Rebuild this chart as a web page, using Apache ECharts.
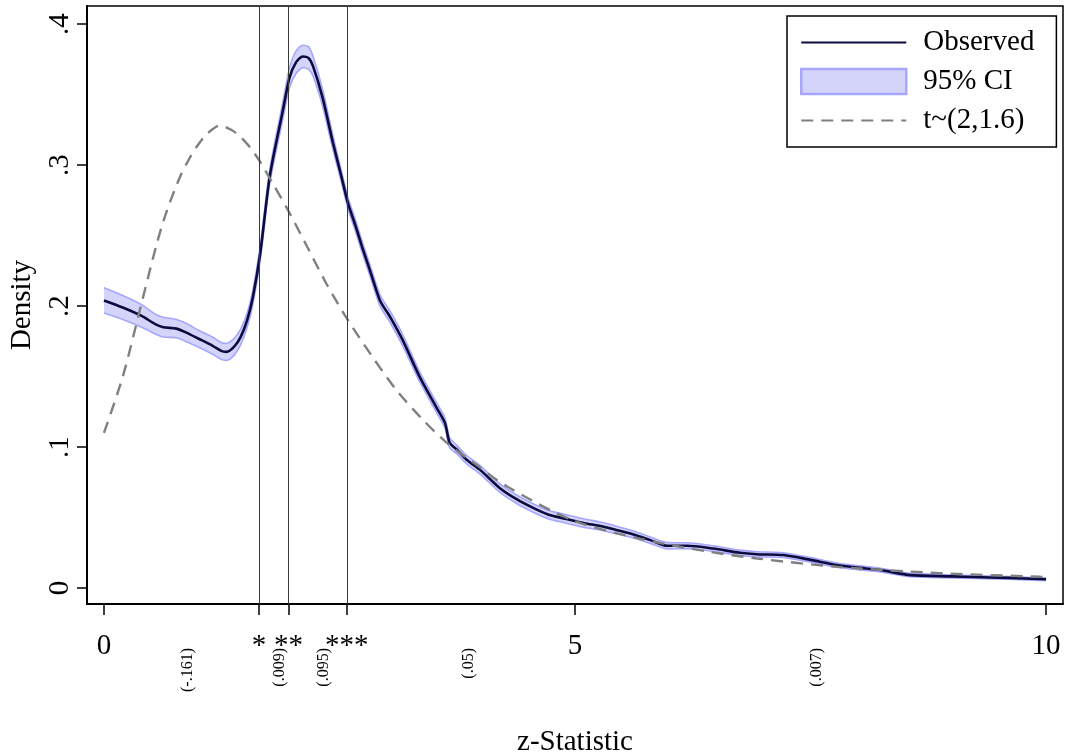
<!DOCTYPE html>
<html>
<head>
<meta charset="utf-8">
<title>z-Statistic density</title>
<script src="https://cdn.jsdelivr.net/npm/echarts@6/dist/echarts.min.js"></script>
<style>
  html, body { margin: 0; padding: 0; background: #fff; }
  #chart { width: 1067px; height: 755px; }
</style>
</head>
<body>
<div id="chart"></div>
<script>
// Kernel density of observed z-statistics, with its 95% band
const zGrid = [0.00, 0.20, 0.40, 0.55, 0.63, 0.77, 0.88, 1.00, 1.15, 1.25, 1.30, 1.38, 1.45, 1.52, 1.58, 1.66, 1.76, 1.90, 1.97, 2.04,
  2.11, 2.17, 2.22, 2.32, 2.43, 2.52, 2.59, 2.67, 2.74, 2.82, 2.93, 3.04, 3.17, 3.35, 3.53, 3.62, 3.67, 3.75, 3.85, 3.99,
  4.20, 4.38, 4.55, 4.72, 4.91, 5.10, 5.27, 5.45, 5.62, 5.80, 5.98, 6.19, 6.47, 6.75, 6.93, 7.21, 7.50, 7.78, 8.00, 8.24,
  8.56, 9.00, 9.23, 9.60, 10.00];
const observed = [0.204, 0.199, 0.193, 0.187, 0.185, 0.184, 0.181, 0.177, 0.172, 0.168, 0.1675, 0.171, 0.178, 0.190, 0.206, 0.238, 0.292, 0.339, 0.362, 0.373,
  0.377, 0.376, 0.370, 0.348, 0.316, 0.292, 0.273, 0.257, 0.242, 0.226, 0.204, 0.192, 0.176, 0.150, 0.128, 0.117, 0.103, 0.098, 0.091, 0.084,
  0.071, 0.063, 0.057, 0.052, 0.049, 0.046, 0.044, 0.041, 0.038, 0.034, 0.030, 0.030, 0.028, 0.025, 0.024, 0.0234, 0.020, 0.0163, 0.0145, 0.0128,
  0.0092, 0.0083, 0.0078, 0.0072, 0.0062];
const ciLower = [0.195, 0.1905, 0.185, 0.180, 0.178, 0.1775, 0.1745, 0.171, 0.166, 0.162, 0.1615, 0.165, 0.1725, 0.185, 0.201, 0.233, 0.287, 0.333, 0.355, 0.365,
  0.369, 0.368, 0.363, 0.342, 0.311, 0.288, 0.269, 0.253, 0.238, 0.222, 0.200, 0.188, 0.172, 0.1465, 0.1245, 0.1135, 0.0995, 0.095, 0.088, 0.081,
  0.068, 0.060, 0.054, 0.049, 0.046, 0.043, 0.0412, 0.0383, 0.0355, 0.0317, 0.0278, 0.0279, 0.026, 0.0231, 0.0222, 0.0217, 0.0184, 0.0148, 0.0131, 0.0115,
  0.0080, 0.0072, 0.0068, 0.0062, 0.0053];
const ciUpper = [0.213, 0.2075, 0.201, 0.194, 0.192, 0.1905, 0.1875, 0.183, 0.178, 0.174, 0.1735, 0.177, 0.1835, 0.195, 0.211, 0.243, 0.297, 0.345, 0.369, 0.381,
  0.385, 0.384, 0.377, 0.354, 0.321, 0.296, 0.277, 0.261, 0.246, 0.230, 0.208, 0.196, 0.180, 0.1535, 0.1315, 0.1205, 0.1065, 0.101, 0.094, 0.087,
  0.074, 0.066, 0.060, 0.055, 0.052, 0.049, 0.0468, 0.0437, 0.0405, 0.0363, 0.0322, 0.0321, 0.030, 0.0269, 0.0258, 0.0251, 0.0216, 0.0178, 0.0159, 0.0141,
  0.0104, 0.0094, 0.0088, 0.0082, 0.0071];

// Reference t density
const tZ = [0.00, 0.20, 0.38, 0.56, 0.67, 0.81, 0.91, 0.99, 1.10, 1.23, 1.35, 1.45, 1.52, 1.58, 1.66, 1.80, 1.97, 2.15, 2.36, 2.59,
  2.86, 3.11, 3.39, 3.64, 3.92, 4.28, 4.98, 5.69, 6.40, 6.93, 7.80, 8.87, 9.94, 10.00];
const tDensity = [0.110, 0.150, 0.197, 0.244, 0.268, 0.292, 0.305, 0.3135, 0.3225, 0.328, 0.325, 0.320, 0.315, 0.310, 0.302, 0.286, 0.266, 0.243, 0.216, 0.190,
  0.163, 0.140, 0.119, 0.103, 0.089, 0.072, 0.048, 0.035, 0.026, 0.021, 0.015, 0.0106, 0.008, 0.0079];

// Critical values and their significance stars
const critValues = [1.645, 1.96, 2.576];
const critStars = ['*', '**', '***'];
const xTickValues = [0, 5, 10];
const xTickLabels = ['0', '5', '10'];
const yTickValues = [0, 0.1, 0.2, 0.3, 0.4];
const yTickLabels = ['0', '.1', '.2', '.3', '.4'];
// Bin statistics written below the axis
const binPositions = [0.89, 1.87, 2.33, 3.87, 7.57];
const binLabels = ['(-.161)', '(.009)', '(.095)', '(.05)', '(.007)'];

const FONT = '"Liberation Serif", "DejaVu Serif", serif';
const BAND_FILL = '#d4d4fb';
const BAND_EDGE = '#a6a6ff';

const pairs = (xs, ys) => xs.map((x, i) => [x, ys[i]]);
const lookup = (vals, labels) => (v) => {
  for (let i = 0; i < vals.length; i++) {
    if (Math.abs(vals[i] - v) < 1e-6) return labels[i];
  }
  return '';
};

const xAllTicks = xTickValues.concat(critValues).sort((a, b) => a - b);
const xLabelOf = lookup(xTickValues.concat(critValues), xTickLabels.concat(critStars));

// Band polygon: upper edge left to right, then lower edge back
function renderBand(params, api) {
  if (params.dataIndex !== 0) return null;
  const upper = zGrid.map((z, i) => api.coord([z, ciUpper[i]]));
  const lower = zGrid.map((z, i) => api.coord([z, ciLower[i]])).reverse();
  return {
    type: 'polygon',
    shape: { points: upper.concat(lower) },
    style: { fill: BAND_FILL, stroke: null }
  };
}

const chart = echarts.init(document.getElementById('chart'), null, { renderer: 'canvas' });

chart.setOption({
  animation: false,
  backgroundColor: '#ffffff',
  textStyle: { fontFamily: FONT, color: '#000' },
  grid: {
    left: 87, right: 4, top: 6, bottom: 151,
    outerBoundsMode: 'none', containLabel: false,
    show: true, borderColor: '#000', borderWidth: 1.5, backgroundColor: 'transparent'
  },
  legend: {
    orient: 'vertical',
    left: 787, top: 16,
    padding: [12, 22, 12, 13],
    itemGap: 10,
    itemWidth: 105, itemHeight: 25,
    backgroundColor: '#fff',
    borderColor: '#000', borderWidth: 1.5, borderRadius: 0,
    selectedMode: false,
    itemStyle: { opacity: 0 },
    textStyle: { fontFamily: FONT, fontSize: 29, color: '#000', padding: [0, 0, 0, 12] },
    data: [
      { name: 'Observed' },
      { name: '95% CI', icon: 'rect', itemStyle: { opacity: 1, color: BAND_FILL, borderColor: BAND_EDGE, borderWidth: 2.5 } },
      { name: 't~(2,1.6)' }
    ]
  },
  xAxis: [
    {
      type: 'value', min: -0.18, max: 10.18,
      name: 'z-Statistic', nameLocation: 'middle', nameGap: 124,
      nameTextStyle: { fontFamily: FONT, fontSize: 29, color: '#000' },
      axisLine: { show: true, onZero: false, lineStyle: { color: '#000', width: 2 } },
      axisTick: { show: true, length: 11, customValues: xAllTicks, lineStyle: { color: '#000', width: 1.5 } },
      axisLabel: {
        show: true, customValues: xAllTicks, margin: 28,
        fontFamily: FONT, fontSize: 29, color: '#000',
        formatter: (v) => xLabelOf(v)
      },
      splitLine: { show: false }
    },
    {
      type: 'value', min: -0.18, max: 10.18, position: 'bottom', gridIndex: 0,
      axisLine: { show: false, onZero: false },
      axisTick: { show: false },
      splitLine: { show: false },
      axisLabel: {
        show: true, customValues: binPositions, rotate: 90, margin: 44,
        fontFamily: FONT, fontSize: 16, color: '#000',
        formatter: lookup(binPositions, binLabels)
      }
    }
  ],
  yAxis: {
    type: 'value', min: -0.0113, max: 0.4128,
    name: 'Density', nameLocation: 'middle', nameGap: 50,
    nameTextStyle: { fontFamily: FONT, fontSize: 29, color: '#000' },
    axisLine: { show: true, onZero: false, lineStyle: { color: '#000', width: 2 } },
    axisTick: { show: true, length: 10, customValues: yTickValues, lineStyle: { color: '#000', width: 1.5 } },
    axisLabel: {
      show: true, customValues: yTickValues, rotate: 90, margin: 12,
      fontFamily: FONT, fontSize: 29, color: '#000',
      formatter: lookup(yTickValues, yTickLabels)
    },
    splitLine: { show: false }
  },
  series: [
    {
      name: '95% CI',
      type: 'custom', silent: true,
      renderItem: renderBand,
      encode: { x: 0, y: [1, 2] },
      data: zGrid.map((z, i) => [z, ciLower[i], ciUpper[i]]),
      itemStyle: { color: BAND_FILL },
      z: 1
    },
    {
      type: 'line', symbol: 'none', smooth: 0.25, silent: true,
      data: pairs(zGrid, ciLower),
      lineStyle: { color: BAND_EDGE, width: 1.6 },
      z: 2
    },
    {
      type: 'line', symbol: 'none', smooth: 0.25, silent: true,
      data: pairs(zGrid, ciUpper),
      lineStyle: { color: BAND_EDGE, width: 1.6 },
      z: 2
    },
    {
      name: 'Observed',
      type: 'line', symbol: 'none', smooth: 0.25, silent: true,
      data: pairs(zGrid, observed),
      lineStyle: { color: '#0b0b3e', width: 2.6 },
      itemStyle: { color: '#000' },
      markLine: {
        silent: true, symbol: 'none', animation: false,
        label: { show: false },
        lineStyle: { color: '#3a3a3a', width: 1, type: 'solid' },
        data: critValues.map((v) => ({ xAxis: v }))
      },
      z: 3
    },
    {
      name: 't~(2,1.6)',
      type: 'line', symbol: 'none', smooth: 0.3, silent: true,
      data: pairs(tZ, tDensity),
      lineStyle: { color: '#808080', width: 2.4, type: [12, 8] },
      itemStyle: { color: '#808080' },
      z: 4
    }
  ]
});
</script>
</body>
</html>
